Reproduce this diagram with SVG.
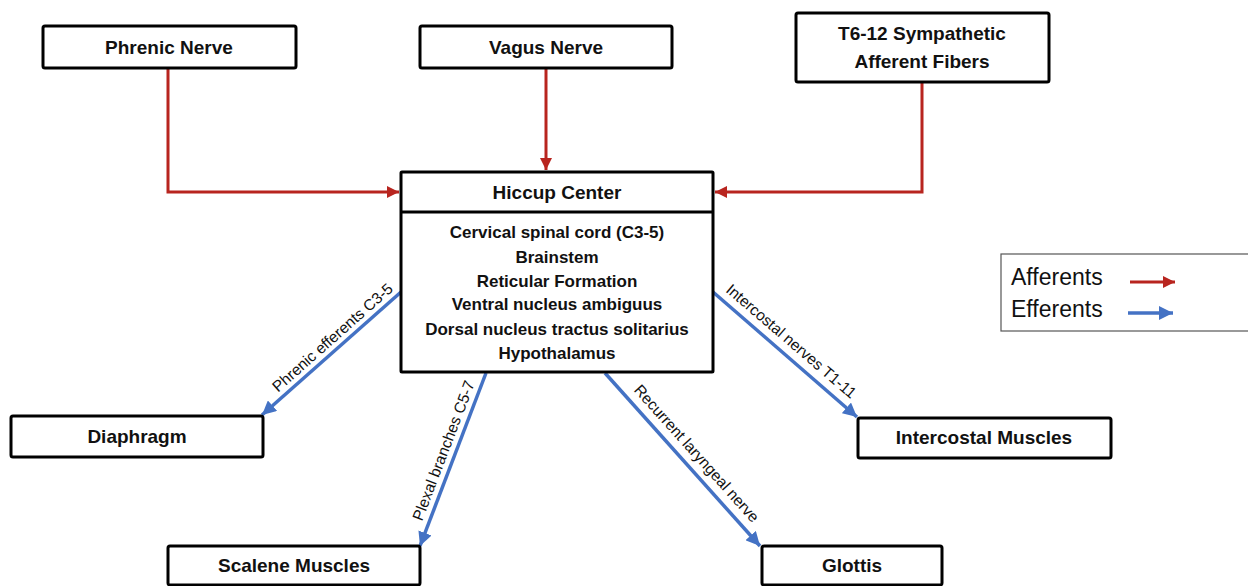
<svg xmlns="http://www.w3.org/2000/svg" width="1248" height="586" viewBox="0 0 1248 586">
<style>
.box{fill:#fff;stroke:#000;stroke-width:3}
.lbl{font-family:"Liberation Sans",Arial,sans-serif;font-weight:bold;font-size:19px;text-anchor:middle;fill:#111}
.sub{font-family:"Liberation Sans",Arial,sans-serif;font-weight:bold;font-size:17px;text-anchor:middle;fill:#111}
.el{font-family:"Liberation Sans",Arial,sans-serif;font-size:15.5px;text-anchor:middle;fill:#111}
.leg{font-family:"Liberation Sans",Arial,sans-serif;font-size:23px;fill:#111}
.aff{fill:none;stroke:#B8251F;stroke-width:3}
.eff{fill:none;stroke:#4472C4;stroke-width:3.5}
</style>
<defs>
<marker id="ar" markerUnits="userSpaceOnUse" markerWidth="14" markerHeight="12" refX="12" refY="6" orient="auto"><path d="M0,0 L12,6 L0,12 Z" fill="#B8251F"/></marker>
<marker id="ab" markerUnits="userSpaceOnUse" markerWidth="16" markerHeight="14" refX="14" refY="7" orient="auto"><path d="M0,0 L14,7 L0,14 Z" fill="#4472C4"/></marker>
</defs>
<rect x="0" y="0" width="1248" height="586" fill="#fff"/>
<g id="connectors">
<path class="aff" d="M168,68 V192 H399" marker-end="url(#ar)"/>
<path class="aff" d="M546,68 V170" marker-end="url(#ar)"/>
<path class="aff" d="M922,82 V192 H715" marker-end="url(#ar)"/>
<path class="eff" d="M401,292 L262,415" marker-end="url(#ab)"/>
<path class="eff" d="M486,373 L420,546" marker-end="url(#ab)"/>
<path class="eff" d="M605,373 L760,546" marker-end="url(#ab)"/>
<path class="eff" d="M713,292 L857,417" marker-end="url(#ab)"/>
<text class="el" transform="translate(340,346) rotate(-41.5)" y="-6">Phrenic efferents C3-5</text>
<text class="el" transform="translate(455,455) rotate(-69.1)" y="-7">Plexal branches C5-7</text>
<text class="el" transform="translate(686,463) rotate(48.1)" y="-9">Recurrent laryngeal nerve</text>
<text class="el" transform="translate(782,352) rotate(40.7)" y="-9">Intercostal nerves T1-11</text>
</g>
<g id="phrenic-nerve"><rect class="box" x="43" y="26" width="253" height="42" rx="2"/><text class="lbl" x="169" y="54">Phrenic Nerve</text></g>
<g id="vagus-nerve"><rect class="box" x="420" y="26" width="252" height="42" rx="2"/><text class="lbl" x="546" y="54">Vagus Nerve</text></g>
<g id="t6-12"><rect class="box" x="796" y="13" width="253" height="69" rx="2"/><text class="lbl" x="922" y="40">T6-12 Sympathetic</text><text class="lbl" x="922" y="68">Afferent Fibers</text></g>
<g id="hiccup-center">
<rect class="box" x="401" y="172" width="312" height="200" rx="1"/>
<line x1="401" y1="212" x2="713" y2="212" stroke="#000" stroke-width="3"/>
<text class="lbl" x="557" y="199">Hiccup Center</text>
<text class="sub" x="557" y="238">Cervical spinal cord (C3-5)</text>
<text class="sub" x="557" y="263">Brainstem</text>
<text class="sub" x="557" y="287">Reticular Formation</text>
<text class="sub" x="557" y="310">Ventral nucleus ambiguus</text>
<text class="sub" x="557" y="335">Dorsal nucleus tractus solitarius</text>
<text class="sub" x="557" y="359">Hypothalamus</text>
</g>
<g id="diaphragm"><rect class="box" x="11" y="416" width="252" height="41" rx="2"/><text class="lbl" x="137" y="443">Diaphragm</text></g>
<g id="scalene-muscles"><rect class="box" x="168" y="546" width="252" height="39" rx="2"/><text class="lbl" x="294" y="572">Scalene Muscles</text></g>
<g id="glottis"><rect class="box" x="762" y="546" width="180" height="39" rx="2"/><text class="lbl" x="852" y="572">Glottis</text></g>
<g id="intercostal-muscles"><rect class="box" x="858" y="418" width="253" height="40" rx="2"/><text class="lbl" x="984" y="444">Intercostal Muscles</text></g>
<g id="legend">
<rect x="1001" y="254" width="260" height="77" fill="#fff" stroke="#555" stroke-width="1.2"/>
<text class="leg" x="1011" y="285">Afferents</text>
<text class="leg" x="1011" y="317">Efferents</text>
<path class="aff" d="M1130,282 H1175" marker-end="url(#ar)"/>
<path class="eff" d="M1128,313 H1173" marker-end="url(#ab)"/>
</g>
</svg>
